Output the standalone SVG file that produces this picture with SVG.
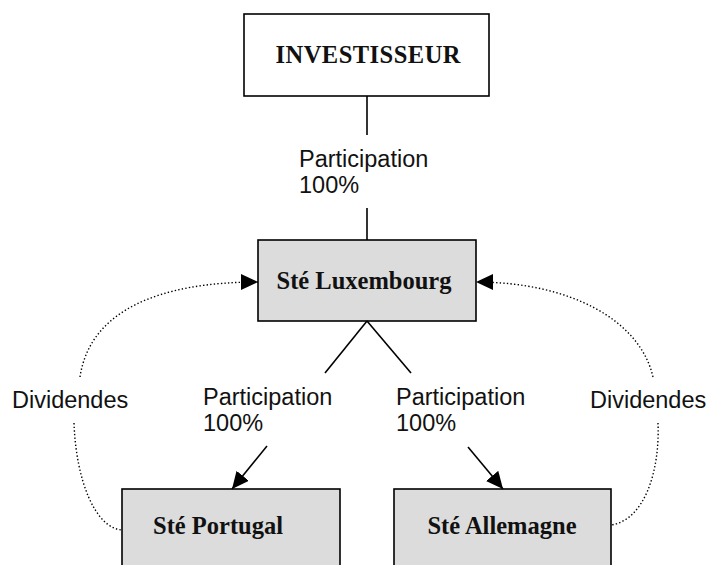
<svg xmlns="http://www.w3.org/2000/svg" width="707" height="565" viewBox="0 0 707 565">
<style>
.box{stroke:#000;stroke-width:1.6}
.w{fill:#fff}
.g{fill:#dcdcdc}
.bt{font-family:"Liberation Serif","Times New Roman",serif;font-weight:bold;font-size:24.5px;fill:#111;text-anchor:middle}
.lt{font-family:"Liberation Sans",Arial,sans-serif;font-size:23.5px;fill:#111}
.ln{stroke:#000;stroke-width:1.6;fill:none}
.dot{stroke:#000;stroke-width:1.4;fill:none;stroke-dasharray:1.4 2.2}
</style>
<defs>
<marker id="ah" viewBox="0 0 17 16" refX="17" refY="8" markerWidth="17" markerHeight="16" markerUnits="userSpaceOnUse" orient="auto">
<path d="M0,0 L17,8 L0,16 Z" fill="#000"/>
</marker>
</defs>
<g id="investisseur">
<rect class="box w" x="244" y="14" width="245" height="82"/>
<text class="bt" x="368" y="63" textLength="185">INVESTISSEUR</text>
</g>
<g id="luxembourg">
<rect class="box g" x="258" y="240" width="218" height="81"/>
<text class="bt" x="364" y="289">Sté Luxembourg</text>
</g>
<g id="portugal">
<rect class="box g" x="122" y="489" width="218" height="100"/>
<text class="bt" x="218" y="534">Sté Portugal</text>
</g>
<g id="allemagne">
<rect class="box g" x="394" y="489" width="217" height="100"/>
<text class="bt" x="502" y="534">Sté Allemagne</text>
</g>
<g id="connectors">
<line class="ln" x1="367" y1="96" x2="367" y2="135"/>
<line class="ln" x1="367" y1="208" x2="367" y2="240"/>
<line class="ln" x1="367" y1="321" x2="325" y2="373"/>
<line class="ln" x1="367" y1="321" x2="411" y2="373"/>
<line class="ln" x1="267" y1="446" x2="232" y2="489" marker-end="url(#ah)"/>
<line class="ln" x1="468" y1="447" x2="503" y2="489" marker-end="url(#ah)"/>
<path class="dot" d="M80,377 C90,310 160,282 258,282" marker-end="url(#ah)"/>
<path class="dot" d="M74,423 C76,480 95,528 122,530"/>
<path class="dot" d="M653,377 C640,320 570,282 476,282" marker-end="url(#ah)"/>
<path class="dot" d="M658,423 C660,470 645,520 611,525"/>
</g>
<g id="labels">
<text class="lt" x="299" y="167">Participation</text>
<text class="lt" x="299" y="193">100%</text>
<text class="lt" x="203" y="405">Participation</text>
<text class="lt" x="203" y="431">100%</text>
<text class="lt" x="396" y="405">Participation</text>
<text class="lt" x="396" y="431">100%</text>
<text class="lt" x="12" y="408">Dividendes</text>
<text class="lt" x="590" y="408">Dividendes</text>
</g>
</svg>
